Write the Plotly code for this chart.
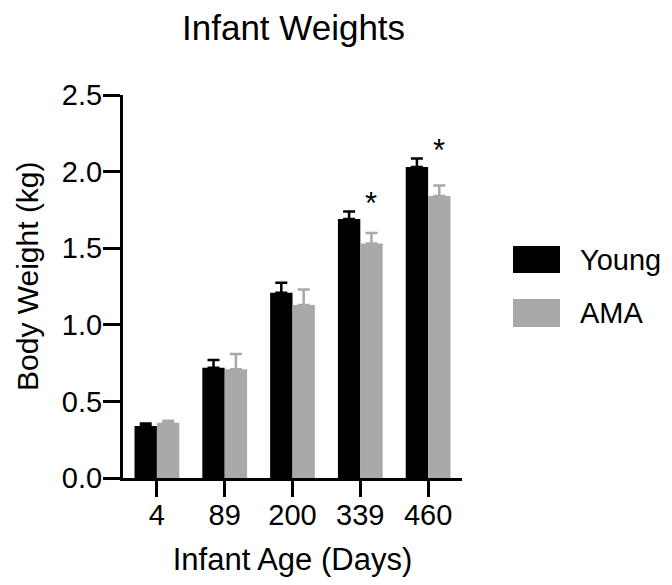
import plotly.graph_objects as go

# Infant body weight by age, two maternal-age groups (mean + SEM)
ages = ["4", "89", "200", "339", "460"]
groups = ["Young", "AMA"]
young_mean = [0.34, 0.72, 1.21, 1.69, 2.03]
young_sem = [0.015, 0.05, 0.065, 0.05, 0.055]
ama_mean = [0.36, 0.71, 1.13, 1.53, 1.84]
ama_sem = [0.013, 0.10, 0.10, 0.07, 0.07]
significant = [False, False, False, True, True]

colors = {"Young": "#000000", "AMA": "#A9A9A9"}
FONT = "Arial, Liberation Sans, sans-serif"

W, H = 672, 585
ML, MR, MT, MB = 123, 210, 95, 107
PW, PH = W - ML - MR, H - MT - MB


def px_x(p):
    return (p - ML) / PW


def px_y(p):
    return (H - MB - p) / PH


fig = go.Figure()
for name, mean, sem in [("Young", young_mean, young_sem), ("AMA", ama_mean, ama_sem)]:
    fig.add_trace(go.Bar(
        x=ages, y=mean, name=name,
        marker=dict(color=colors[name], line=dict(width=0)),
        error_y=dict(type="data", array=sem, arrayminus=[0] * len(sem),
                     symmetric=False, color=colors[name], thickness=2.5, width=6),
        showlegend=False,
    ))

# significance stars over the AMA bar (x given as category index)
for i, a in enumerate(ages):
    if significant[i]:
        top = max(young_mean[i] + young_sem[i], ama_mean[i] + ama_sem[i])
        fig.add_annotation(x=i, y=top, xref="x", yref="y", text="*",
                           showarrow=False, xshift=11, yshift=8, yanchor="middle",
                           font=dict(family=FONT, size=31, color="black"))

# legend drawn as swatches + labels
legend_rows = [(246, 273), (299, 327)]
for name, (y0, y1) in zip(groups, legend_rows):
    fig.add_shape(type="rect", xref="paper", yref="paper",
                  x0=px_x(513), x1=px_x(560), y0=px_y(y1), y1=px_y(y0),
                  fillcolor=colors[name], line=dict(width=0))
    fig.add_annotation(x=px_x(578), y=px_y((y0 + y1) / 2), xref="paper", yref="paper",
                       text=name, showarrow=False, xanchor="left", yanchor="middle",
                       font=dict(family=FONT, size=29, color="black"))

# chart title
fig.add_annotation(x=px_x(293), y=px_y(27), xref="paper", yref="paper",
                   text="Infant Weights", showarrow=False, xanchor="center", yanchor="middle",
                   font=dict(family=FONT, size=35, color="black"))

# y-axis title
fig.add_annotation(x=px_x(27), y=px_y(276), xref="paper", yref="paper",
                   text="Body Weight (kg)", showarrow=False, textangle=-90,
                   xanchor="center", yanchor="middle",
                   font=dict(family=FONT, size=30, color="black"))

fig.update_layout(
    width=W, height=H, autosize=False,
    margin=dict(l=ML, r=MR, t=MT, b=MB, pad=0),
    paper_bgcolor="white", plot_bgcolor="white",
    barmode="group", bargap=0.34, bargroupgap=0,
    font=dict(family=FONT, color="black"),
    xaxis=dict(
        type="category", range=[-0.5, 4.5],
        showline=True, linecolor="black", linewidth=3,
        ticks="outside", ticklen=16, tickwidth=3, tickcolor="black",
        tickfont=dict(size=29), showgrid=False, zeroline=False,
        ticklabelstandoff=-7,
        title=dict(text="Infant Age (Days)", font=dict(size=31), standoff=19),
    ),
    yaxis=dict(
        range=[0, 2.5], tickvals=[0, 0.5, 1.0, 1.5, 2.0, 2.5],
        ticktext=["0.0", "0.5", "1.0", "1.5", "2.0", "2.5"],
        showline=True, linecolor="black", linewidth=3,
        ticks="outside", ticklen=17, tickwidth=3, tickcolor="black",
        tickfont=dict(size=29), showgrid=False, zeroline=False,
        ticklabelstandoff=-5,
    ),
)

fig.write_html("out.html")
